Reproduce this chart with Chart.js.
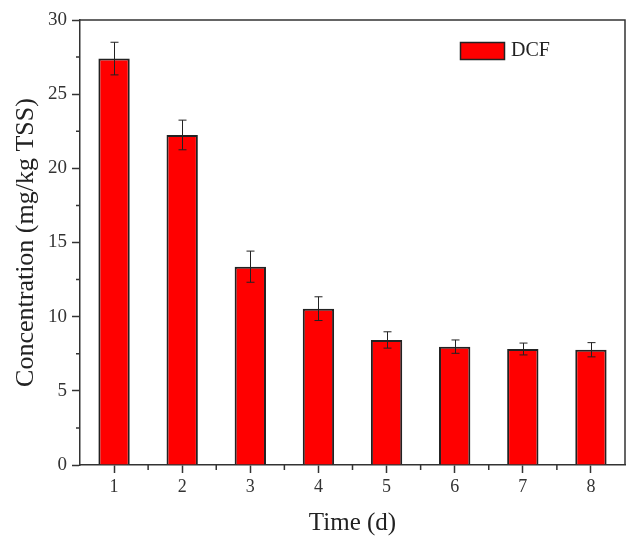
<!DOCTYPE html>
<html>
<head>
<meta charset="utf-8">
<script src="https://cdn.jsdelivr.net/npm/chart.js@4/dist/chart.umd.min.js"></script>
<style>
  html, body { margin: 0; padding: 0; background: #fff; }
  #wrap { width: 626px; height: 538px; }
</style>
</head>
<body>
<div id="wrap"><canvas id="chart"></canvas></div>
<script>
const days = [1, 2, 3, 4, 5, 6, 7, 8];
const dcf = [27.4, 22.25, 13.37, 10.54, 8.43, 7.98, 7.82, 7.77];
const dcfErr = [1.1, 1.0, 1.05, 0.8, 0.55, 0.45, 0.4, 0.48];
const yTicks = [0, 5, 10, 15, 20, 25, 30];

const serif = "'Liberation Serif', 'Times New Roman', serif";
const axisColor = "#333";

// error bars, minor ticks, box legend
const extras = {
  id: "extras",
  afterDatasetsDraw(chart) {
    const { ctx, scales } = chart;
    const x = scales.x;
    const y = scales.y;
    ctx.save();
    ctx.strokeStyle = "#222";
    ctx.lineWidth = 1;
    dcf.forEach((v, i) => {
      const px = Math.round(x.getPixelForValue(i)) + 0.5;
      const top = y.getPixelForValue(v + dcfErr[i]);
      const bot = y.getPixelForValue(v - dcfErr[i]);
      ctx.beginPath();
      ctx.moveTo(px, top);
      ctx.lineTo(px, bot);
      ctx.moveTo(px - 4, top);
      ctx.lineTo(px + 4, top);
      ctx.moveTo(px - 4, bot);
      ctx.lineTo(px + 4, bot);
      ctx.stroke();
    });
    ctx.restore();
  },
  afterDraw(chart) {
    const { ctx, scales, chartArea } = chart;
    const x = scales.x;
    const y = scales.y;
    ctx.save();
    ctx.strokeStyle = axisColor;
    ctx.lineWidth = 1.5;
    ctx.beginPath();
    // minor ticks on x
    for (let i = 0; i < days.length - 1; i++) {
      const px = (x.getPixelForValue(i) + x.getPixelForValue(i + 1)) / 2;
      ctx.moveTo(px, chartArea.bottom);
      ctx.lineTo(px, chartArea.bottom + 5);
    }
    // minor ticks on y
    for (let i = 0; i < yTicks.length - 1; i++) {
      const py = y.getPixelForValue((yTicks[i] + yTicks[i + 1]) / 2);
      ctx.moveTo(chartArea.left, py);
      ctx.lineTo(chartArea.left - 4, py);
    }
    ctx.stroke();
    // frame top and right
    ctx.beginPath();
    ctx.moveTo(chartArea.left, chartArea.top);
    ctx.lineTo(chartArea.right, chartArea.top);
    ctx.lineTo(chartArea.right, chartArea.bottom);
    ctx.stroke();

    // legend
    const lx = chartArea.right - 165;
    const ly = chartArea.top + 22;
    ctx.fillStyle = "#ff0000";
    ctx.fillRect(lx, ly, 44, 17);
    ctx.strokeStyle = "#222";
    ctx.lineWidth = 1.5;
    ctx.strokeRect(lx + 0.5, ly + 0.5, 44, 17);
    ctx.fillStyle = "#222";
    ctx.font = "20px " + serif;
    ctx.textBaseline = "middle";
    ctx.fillText(chart.data.datasets[0].label, lx + 51, ly + 9);
    ctx.restore();
  }
};

new Chart(document.getElementById("chart"), {
  type: "bar",
  data: {
    labels: days.map(String),
    datasets: [{
      label: "DCF",
      data: dcf,
      backgroundColor: "#ff0000",
      borderColor: "#222",
      borderWidth: 2,
      barPercentage: 0.46,
      categoryPercentage: 1
    }]
  },
  options: {
    responsive: true,
    maintainAspectRatio: false,
    animation: false,
    layout: { padding: { top: 20, right: 1, left: 0, bottom: 0 } },
    plugins: {
      legend: { display: false },
      tooltip: { enabled: false }
    },
    scales: {
      x: {
        offset: true,
        grid: {
          offset: false,
          drawOnChartArea: false,
          drawTicks: true,
          tickLength: 8,
          tickWidth: 1.5,
          tickColor: axisColor
        },
        border: { color: axisColor, width: 1.5 },
        ticks: {
          color: "#333",
          font: { family: serif, size: 18 },
          padding: 3
        },
        title: {
          display: true,
          text: "Time (d)",
          color: "#222",
          font: { family: serif, size: 25 },
          padding: { top: 4, bottom: 0 }
        },
        afterFit(scale) { scale.height = 73; }
      },
      y: {
        min: 0,
        max: 30,
        afterBuildTicks(scale) {
          scale.ticks = yTicks.map((v) => ({ value: v }));
        },
        grid: {
          drawOnChartArea: false,
          drawTicks: true,
          tickLength: 8,
          tickWidth: 1.5,
          tickColor: axisColor
        },
        border: { color: axisColor, width: 1.5 },
        ticks: {
          color: "#333",
          font: { family: serif, size: 19 },
          padding: 5
        },
        title: {
          display: true,
          text: "Concentration (mg/kg TSS)",
          color: "#222",
          font: { family: serif, size: 26 },
          padding: { top: 11, bottom: 0 }
        },
        afterFit(scale) { scale.width = 80; }
      }
    }
  },
  plugins: [extras]
});
</script>
</body>
</html>
